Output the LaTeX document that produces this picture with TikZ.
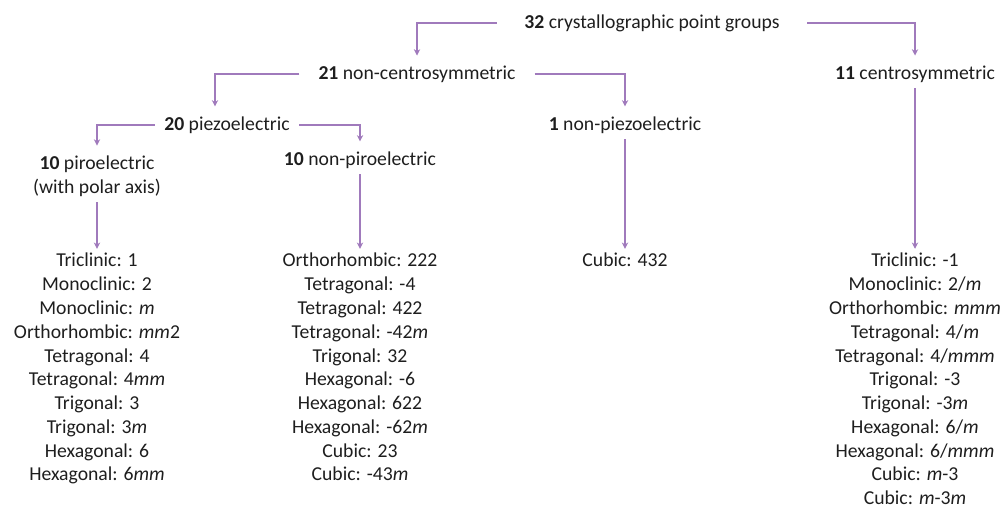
\documentclass[tikz,border=0pt]{standalone}
\usepackage{fontspec}
\setmainfont{Carlito}
\usetikzlibrary{arrows.meta}
\definecolor{linkpurple}{RGB}{160,122,188}
\definecolor{inktext}{RGB}{30,30,30}

\begin{document}
\begin{tikzpicture}[
  x=0.025cm, y=-0.025cm,
  font=\fontsize{14}{16.9}\selectfont, text=inktext,
  grp/.style={inner xsep=#1, inner ysep=4pt, align=center},
  grp/.default=0.45cm,
  lst/.style={anchor=north, inner sep=0pt, align=center},
  link/.style={draw=linkpurple, line width=1.3pt, shorten >=3pt,
               -{Stealth[length=4.5pt,width=4.5pt]}}
]
\useasboundingbox (0,0) rectangle (1005,511);

% headings
\node[grp=0.68cm] (all)  at (652,23)  {\textbf{32} crystallographic point groups};
\node[grp=0.47cm] (ncs)  at (417,74)  {\textbf{21} non-centrosymmetric};
\node[grp=0.47cm] (cs)   at (915,74)  {\textbf{11} centrosymmetric};
\node[grp=0.23cm] (pz)   at (227,125) {\textbf{20} piezoelectric};
\node[grp]        (npz)  at (625,125) {\textbf{1} non-piezoelectric};
\node[grp]        (pyr)  at (97,176)  {\textbf{10} piroelectric\\(with polar axis)};
\node[grp]        (npyr) at (360,160) {\textbf{10} non-piroelectric};

% point group lists
\node[lst] (pyrl) at (97,253) {Triclinic: 1\\Monoclinic: 2\\Monoclinic: \textit{m}\\
  Orthorhombic: \textit{mm}2\\Tetragonal: 4\\Tetragonal: 4\textit{mm}\\Trigonal: 3\\
  Trigonal: 3\textit{m}\\Hexagonal: 6\\Hexagonal: 6\textit{mm}};
\node[lst] (npyrl) at (360,253) {Orthorhombic: 222\\Tetragonal: -4\\Tetragonal: 422\\
  Tetragonal: -42\textit{m}\\Trigonal: 32\\Hexagonal: -6\\Hexagonal: 622\\
  Hexagonal: -62\textit{m}\\Cubic: 23\\Cubic: -43\textit{m}};
\node[lst] (npzl) at (625,253) {Cubic: 432};
\node[lst] (csl) at (915,253) {Triclinic: -1\\Monoclinic: 2/\textit{m}\\Orthorhombic: \textit{mmm}\\
  Tetragonal: 4/\textit{m}\\Tetragonal: 4/\textit{mmm}\\Trigonal: -3\\Trigonal: -3\textit{m}\\
  Hexagonal: 6/\textit{m}\\Hexagonal: 6/\textit{mmm}\\Cubic: \textit{m}-3\\Cubic: \textit{m}-3\textit{m}};

% brackets
\draw[link] (all.west) -| (ncs.north);
\draw[link] (all.east) -| (cs.north);
\draw[link] (ncs.west) -| ([xshift=-0.3cm]pz.north);
\draw[link] (ncs.east) -| (npz.north);
\draw[link] (pz.west) -| (pyr.north);
\draw[link] (pz.east) -| (npyr.north);

% down to the lists
\draw[link] (pyr.south) -- (pyrl.north);
\draw[link] (npyr.south) -- (npyrl.north);
\draw[link] (npz.south) -- (npzl.north);
\draw[link] (cs.south) -- (csl.north);
\end{tikzpicture}
\end{document}
